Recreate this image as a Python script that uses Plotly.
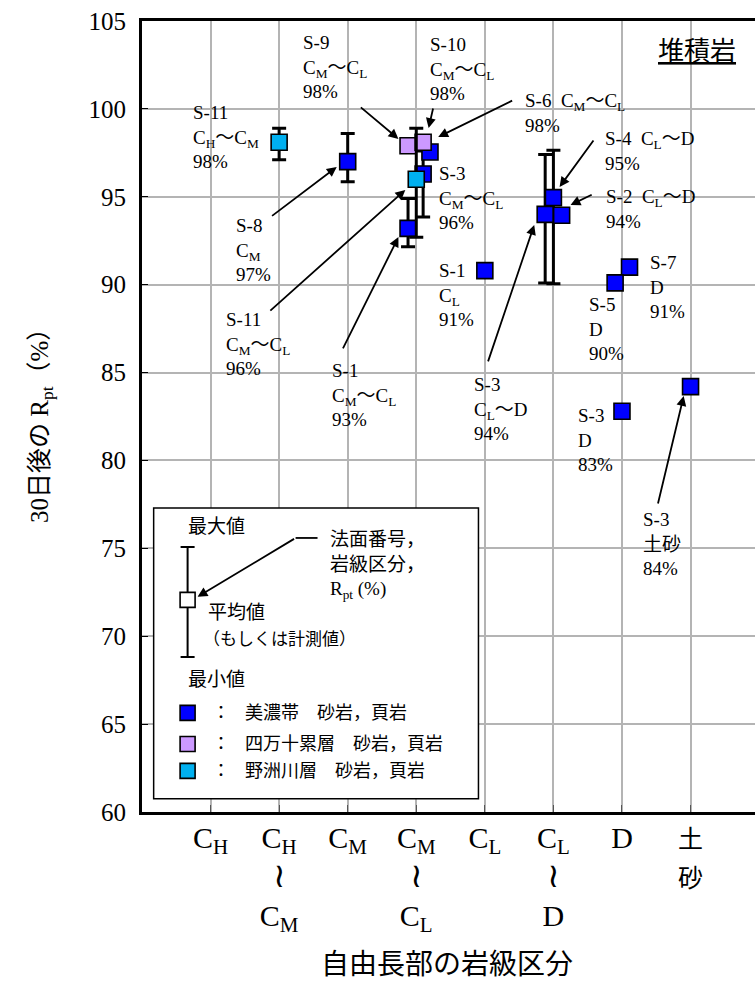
import plotly.graph_objects as go

# ---------------- data ----------------
grades = ["CH", "CH~CM", "CM", "CM~CL", "CL", "CL~D", "D", "土砂"]
WAVE = "<span style='font-size:34px'>≀</span>"
tick_text = ["C<sub>H</sub>", "C<sub>H</sub><br>" + WAVE + "<br>C<sub>M</sub>", "C<sub>M</sub>",
             "C<sub>M</sub><br>" + WAVE + "<br>C<sub>L</sub>", "C<sub>L</sub>",
             "C<sub>L</sub><br>" + WAVE + "<br>D", "D",
             "<span style='font-size:25px'>土</span><br><span style='font-size:25px'>砂</span>"]

# 美濃帯 砂岩，頁岩
mino_site = ["S-8", "S-1", "S-3", "S-6", "S-1", "S-3", "S-4", "S-2", "S-7", "S-5", "S-3", "S-3"]
mino_grade = ["CM", "CM~CL", "CM~CL", "CM~CL", "CL", "CL~D", "CL~D", "CL~D", "D", "D", "D", "土砂"]
mino_mean = [97.0, 93.2, 96.3, 97.55, 90.8, 94.0, 94.95, 93.95, 91.0, 90.1, 82.8, 84.2]
mino_max = [98.6, 94.9, 97.6, None, None, 97.4, 97.65, None, None, None, None, None]
mino_min = [95.85, 92.15, 93.85, None, None, 90.1, 90.05, None, None, None, None, None]

# 四万十累層 砂岩，頁岩
shim_site = ["S-9", "S-10"]
shim_grade = ["CM~CL", "CM~CL"]
shim_mean = [97.9, 98.1]
shim_max = [None, None]
shim_min = [None, None]

# 野洲川層 砂岩，頁岩
yasu_site = ["S-11", "S-11"]
yasu_grade = ["CH~CM", "CM~CL"]
yasu_mean = [98.1, 96.0]
yasu_max = [98.9, 98.9]
yasu_min = [97.1, 92.7]

# ---------------- layout helpers (dodge offsets to separate overlapping marks) ----------------
dodge = {
    ("S-1", "CM~CL"): -0.12, ("S-3", "CM~CL"): 0.10, ("S-6", "CM~CL"): 0.20,
    ("S-9", "CM~CL"): -0.12, ("S-10", "CM~CL"): 0.10,
    ("S-3", "CL~D"): -0.12, ("S-2", "CL~D"): 0.12,
    ("S-5", "D"): -0.10, ("S-7", "D"): 0.11,
}

SERIF = "Liberation Serif"
MIXED = "Liberation Serif, Noto Sans CJK JP"
CJK = "Noto Sans CJK JP"

fig = go.Figure()


def add_group(sites, grs, means, maxs, mins, color):
    for with_err in (True, False):
        xs, ys, up, dn = [], [], [], []
        for s, g, m, mx, mn in zip(sites, grs, means, maxs, mins):
            has = mx is not None
            if has != with_err:
                continue
            xs.append(grades.index(g) + dodge.get((s, g), 0.0))
            ys.append(m)
            if has:
                up.append(mx - m)
                dn.append(m - mn)
        if not xs:
            continue
        err = None
        if with_err:
            err = dict(type="data", symmetric=False, array=up, arrayminus=dn,
                       color="black", thickness=3, width=7)
        fig.add_trace(go.Scatter(
            x=xs, y=ys, mode="markers", error_y=err, showlegend=False,
            marker=dict(symbol="square", size=16, color=color,
                        line=dict(color="black", width=1.6)),
            hoverinfo="skip"))


BLUE, PURPLE, CYAN = "#0000FF", "#CC99FF", "#00B0F0"
add_group(mino_site, mino_grade, mino_mean, mino_max, mino_min, BLUE)
add_group(shim_site, shim_grade, shim_mean, shim_max, shim_min, PURPLE)
add_group(yasu_site, yasu_grade, yasu_mean, yasu_max, yasu_min, CYAN)

# ---------------- legend box (drawn inside the axes) ----------------
fig.add_shape(type="rect", xref="x", yref="y", x0=-0.83, x1=3.907, y0=60.75, y1=77.3,
              fillcolor="white", line=dict(color="black", width=1.5), layer="between")
# legend glyph: mean with max/min
fig.add_trace(go.Scatter(
    x=[-0.335], y=[72.07], mode="markers", showlegend=False, hoverinfo="skip",
    error_y=dict(type="data", symmetric=False, array=[3.0], arrayminus=[3.25],
                 color="black", thickness=2, width=7),
    marker=dict(symbol="square", size=15, color="white", line=dict(color="black", width=1.6))))
# legend colour swatches
for yv, c in [(65.64, BLUE), (63.87, PURPLE), (62.34, CYAN)]:
    fig.add_trace(go.Scatter(
        x=[-0.335], y=[yv], mode="markers", showlegend=False, hoverinfo="skip",
        marker=dict(symbol="square", size=15, color=c, line=dict(color="black", width=1.6))))

ann = []


def txt(text, x, y, size=19, xanchor="left", yanchor="top", family=MIXED, **kw):
    ann.append(dict(text=text, x=x, y=y, xref="x", yref="y", showarrow=False,
                    xanchor=xanchor, yanchor=yanchor, align="left",
                    font=dict(family=family, size=size, color="black"), **kw))


def arrow(tx, ty, hx, hy):
    ann.append(dict(text="", x=hx, y=hy, ax=tx, ay=ty, xref="x", yref="y",
                    axref="x", ayref="y", showarrow=True, arrowhead=2, arrowsize=1.1,
                    arrowwidth=1.8, arrowcolor="black", standoff=0, startstandoff=0))


CMCL = "C<sub>M</sub>～C<sub>L</sub>"
CLD = "C<sub>L</sub>～D"
NB = "\u00a0\u00a0"

# point labels
txt("S-9<br>" + CMCL + "<br>98%", 1.312, 104.46)
txt("S-10<br>" + CMCL + "<br>98%", 3.178, 104.37)
txt("S-11<br>C<sub>H</sub>～C<sub>M</sub><br>98%", -0.292, 100.48)
txt("S-6" + NB + CMCL + "<br>98%", 4.563, 101.19)
txt("S-4" + NB + CLD + "<br>95%", 5.729, 99.0)
txt("S-2" + NB + CLD + "<br>94%", 5.743, 95.73)
txt("S-3<br>" + CMCL + "<br>96%", 3.309, 97.01)
txt("S-8<br>C<sub>M</sub><br>97%", 0.335, 94.05)
txt("S-11<br>" + CMCL + "<br>96%", 0.19, 88.73)
txt("S-1<br>" + CMCL + "<br>93%", 1.735, 85.80)
txt("S-1<br>C<sub>L</sub><br>91%", 3.309, 91.49)
txt("S-3<br>" + CLD + "<br>94%", 3.819, 85.03)
txt("S-5<br>D<br>90%", 5.496, 89.58)
txt("S-7<br>D<br>91%", 6.385, 92.0)
txt("S-3<br>D<br>83%", 5.335, 83.24)
txt("S-3<br>土砂<br>84%", 6.283, 77.35)

# arrows (tail -> head)
arrow(2.17, 100.16, 2.74, 98.29)
arrow(3.25, 100.11, 3.18, 98.91)
arrow(4.42, 100.51, 3.32, 98.40)
arrow(5.60, 98.29, 5.09, 95.56)
arrow(5.58, 95.16, 5.25, 94.53)
arrow(4.04, 85.55, 4.72, 93.40)
arrow(0.875, 93.85, 1.84, 96.70)
arrow(0.85, 88.45, 2.84, 95.39)
arrow(1.92, 86.29, 2.74, 92.71)
arrow(6.52, 77.47, 6.90, 83.67)
arrow(1.24, 75.59, -0.19, 72.24)
fig.add_shape(type="line", xref="x", yref="y", x0=1.24, x1=1.56, y0=75.59, y1=75.59,
              line=dict(color="black", width=1.8))

# legend texts
txt("最大値", -0.364, 76.22, size=19, yanchor="middle")
txt("法面番号，<br>岩級区分，<br>R<sub>pt</sub> (%)", 1.706, 76.22, size=19)
txt("平均値", -0.073, 71.33, size=19, yanchor="middle")
txt("（もしくは計測値）", -0.14, 69.79, size=17, yanchor="middle")
txt("最小値", -0.364, 67.51, size=19, yanchor="middle")
for yv, lab in [(65.64, "美濃帯　砂岩，頁岩"), (63.87, "四万十累層　砂岩，頁岩"),
                (62.34, "野洲川層　砂岩，頁岩")]:
    txt("：", 0.146, yv, size=18, xanchor="center", yanchor="middle")
    txt(lab, 0.466, yv, size=18, yanchor="middle")

# panel title
txt("<u>堆積岩</u>", 7.10, 103.46, size=26, xanchor="center", yanchor="middle", family=CJK)

# axis titles
ann.append(dict(text="30日後の R<sub>pt</sub>（%）", xref="paper", yref="paper",
                x=-0.163, y=0.4956, showarrow=False, textangle=-90,
                xanchor="center", yanchor="middle",
                font=dict(family=MIXED, size=25, color="black")))
ann.append(dict(text="自由長部の岩級区分", xref="paper", yref="paper",
                x=0.4976, y=-0.1934, showarrow=False, xanchor="center", yanchor="middle",
                font=dict(family=MIXED, size=28, color="black")))

fig.update_layout(
    width=755, height=993,
    margin=dict(l=142, r=0, t=21, b=181, autoexpand=False),
    paper_bgcolor="white", plot_bgcolor="white",
    annotations=ann,
    xaxis=dict(range=[-1, 7.94], tickmode="array", tickvals=list(range(len(grades))),
               ticktext=tick_text, tickfont=dict(family=MIXED, size=30, color="black"),
               showgrid=True, gridcolor="#b4b4b4", gridwidth=1.5, zeroline=False,
               showline=True, linecolor="black", linewidth=3, mirror=True,
               ticks="inside", ticklen=7, tickcolor="#555", tickwidth=1,
               ticklabelstandoff=-3),
    yaxis=dict(range=[60, 105], tickmode="linear", tick0=60, dtick=5,
               tickfont=dict(family=SERIF, size=25, color="black"),
               showgrid=True, gridcolor="#b4b4b4", gridwidth=1.5, zeroline=False,
               showline=True, linecolor="black", linewidth=3, mirror=False,
               ticks="inside", ticklen=6, tickcolor="black", tickwidth=1,
               ticklabelstandoff=8),
)

fig.write_html("out.html")
